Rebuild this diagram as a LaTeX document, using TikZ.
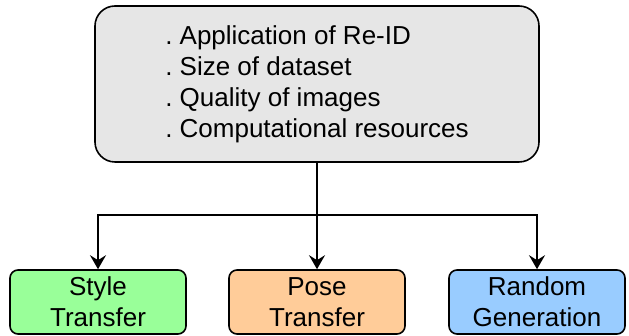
\documentclass[tikz,border=0pt]{standalone}
\usepackage{fontspec}
\setmainfont{Liberation Sans}
\usetikzlibrary{arrows.meta,positioning,calc}
\definecolor{boxgray}{HTML}{E6E6E6}
\definecolor{stylegreen}{HTML}{99FF99}
\definecolor{poseorange}{HTML}{FFCC99}
\definecolor{randomblue}{HTML}{99CCFF}
\tikzset{box/.style={draw=black,line width=1.6pt,rounded corners=8pt,minimum width=176pt,minimum height=64pt,inner sep=0pt,align=center,font=\fontsize{26}{31}\selectfont}}

\begin{document}
\begin{tikzpicture}[->, >={Stealth[length=14pt,width=16pt,inset=5pt]}, line width=2pt, x=1pt, y=1pt]
\useasboundingbox (0,0) rectangle (629,336);
    \node[box,fill=boxgray,rounded corners=20pt,minimum width=444pt,minimum height=156pt,align=left] (top) at (317,252)
        {.~Application of Re-ID\\.~Size of dataset\\.~Quality of images\\.~Computational resources};
    \node[box,fill=stylegreen] (style) at (98,34) {Style\\Transfer};
    \node[box,fill=poseorange] (pose) at (317,34) {Pose\\Transfer};
    \node[box,fill=randomblue] (random) at (537,34) {Random\\Generation};
    \coordinate (split) at (top.south |- 0,121);
    \draw (top.south) -- (pose.north);
    \draw (split) -| (style.north);
    \draw (split) -| (random.north);
\end{tikzpicture}
\end{document}
